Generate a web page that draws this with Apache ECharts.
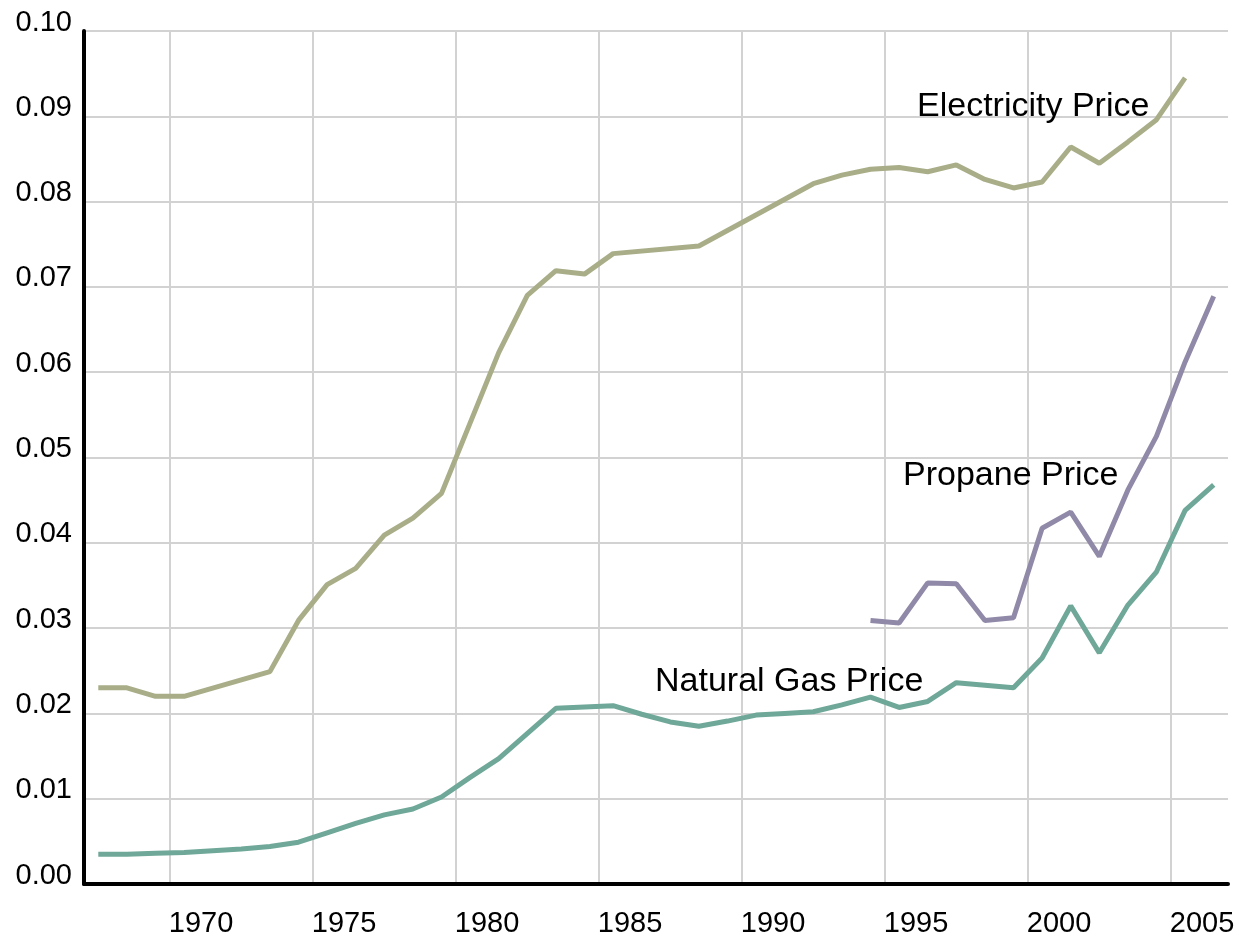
<!DOCTYPE html>
<html>
<head>
<meta charset="utf-8">
<script src="https://cdn.jsdelivr.net/npm/echarts@6/dist/echarts.min.js"></script>
<style>
html,body{margin:0;padding:0;background:#fff;}
#chart{width:1239px;height:940px;}
</style>
</head>
<body>
<div id="chart"></div>
<script>
var years = ['1967','1968','1969','1970','1971','1972','1973','1974','1975','1976',
             '1977','1978','1979','1980','1981','1982','1983','1984','1985','1986',
             '1987','1988','1989','1990','1991','1992','1993','1994','1995','1996',
             '1997','1998','1999','2000','2001','2002','2003','2004','2005','2006'];

var electricity = [0.0230,0.0230,0.0220,0.0220,null,null,0.0249,0.0309,0.0351,0.0370,
                   0.0409,0.0429,0.0458,null,0.0623,0.0690,0.0719,0.0715,0.0739,null,
                   null,0.0748,null,null,null,0.0821,0.0831,0.0838,0.0840,0.0835,
                   0.0843,0.0826,0.0816,0.0823,0.0864,0.0845,0.0870,0.0896,0.0945,null];

var naturalGas = [0.0035,0.0035,0.0036,0.0037,0.0039,0.0041,0.0044,0.0049,0.0060,0.0071,
                  0.0081,0.0088,0.0102,0.0125,0.0147,null,0.0206,null,0.0209,0.0199,
                  0.0190,0.0185,0.0191,0.0198,0.0200,0.0202,0.0210,0.0219,0.0207,0.0214,
                  0.0236,0.0233,0.0230,0.0265,0.0326,0.0271,0.0327,0.0366,0.0438,0.0468];

var propane = [null,null,null,null,null,null,null,null,null,null,
               null,null,null,null,null,null,null,null,null,null,
               null,null,null,null,null,null,null,0.0309,0.0306,0.0353,
               0.0352,0.0309,0.0312,0.0417,0.0436,0.0384,0.0462,0.0525,0.0612,0.0689];

var seriesNames = ['Electricity Price', 'Propane Price', 'Natural Gas Price'];
var labelYears = ['1970','1975','1980','1985','1990','1995','2000','2005'];

var FONT = '"Liberation Sans", Arial, sans-serif';
var GRID = '#d2d2d2';
var chart = echarts.init(document.getElementById('chart'), null, {renderer: 'canvas'});

function isLabelYear(idx, val) { return labelYears.indexOf(String(val)) >= 0; }

// one colour per vertical grid line; the extra closing line at the axis end is hidden
var vLineColors = labelYears.map(function () { return GRID; }).concat(['rgba(0,0,0,0)']);

var option = {
  backgroundColor: '#ffffff',
  animation: false,
  grid: {left: 84, top: 31, width: 1144, height: 853, containLabel: false},
  xAxis: {
    type: 'category',
    data: years,
    boundaryGap: true,
    axisLine: {show: true, lineStyle: {color: '#000', width: 4}},
    axisTick: {show: false},
    axisLabel: {
      interval: isLabelYear,
      color: '#000', fontSize: 29, fontFamily: FONT,
      margin: 26, lineHeight: 28,
      align: 'center', padding: [0, 0, 0, 34]
    },
    splitLine: {show: true, interval: isLabelYear, lineStyle: {color: vLineColors, width: 2}}
  },
  yAxis: {
    type: 'value',
    min: 0, max: 0.10, interval: 0.01,
    axisLine: {show: true, lineStyle: {color: '#000', width: 4}},
    axisTick: {show: false},
    axisLabel: {
      color: '#000', fontSize: 29, fontFamily: FONT,
      margin: 12, verticalAlign: 'bottom', lineHeight: 17,
      formatter: function (v) { return v.toFixed(2); }
    },
    splitLine: {show: true, lineStyle: {color: GRID, width: 2}}
  },
  series: [
    {name: seriesNames[0], type: 'line', data: electricity, connectNulls: true, showSymbol: false,
     lineStyle: {color: '#a9ae88', width: 5}, itemStyle: {color: '#a9ae88'}, z: 3},
    {name: seriesNames[1], type: 'line', data: propane, connectNulls: true, showSymbol: false,
     lineStyle: {color: '#9189a8', width: 5}, itemStyle: {color: '#9189a8'}, z: 3},
    {name: seriesNames[2], type: 'line', data: naturalGas, connectNulls: true, showSymbol: false,
     lineStyle: {color: '#6fa898', width: 5}, itemStyle: {color: '#6fa898'}, z: 3}
  ],
  graphic: [
    {type: 'text', left: 917, top: 90, z: 10,
     style: {text: seriesNames[0], fontSize: 34, fontFamily: FONT, fill: '#000'}},
    {type: 'text', left: 903, top: 459, z: 10,
     style: {text: seriesNames[1], fontSize: 34, fontFamily: FONT, fill: '#000'}},
    {type: 'text', left: 655, top: 665, z: 10,
     style: {text: seriesNames[2], fontSize: 34, fontFamily: FONT, fill: '#000'}}
  ]
};
chart.setOption(option);
</script>
</body>
</html>
